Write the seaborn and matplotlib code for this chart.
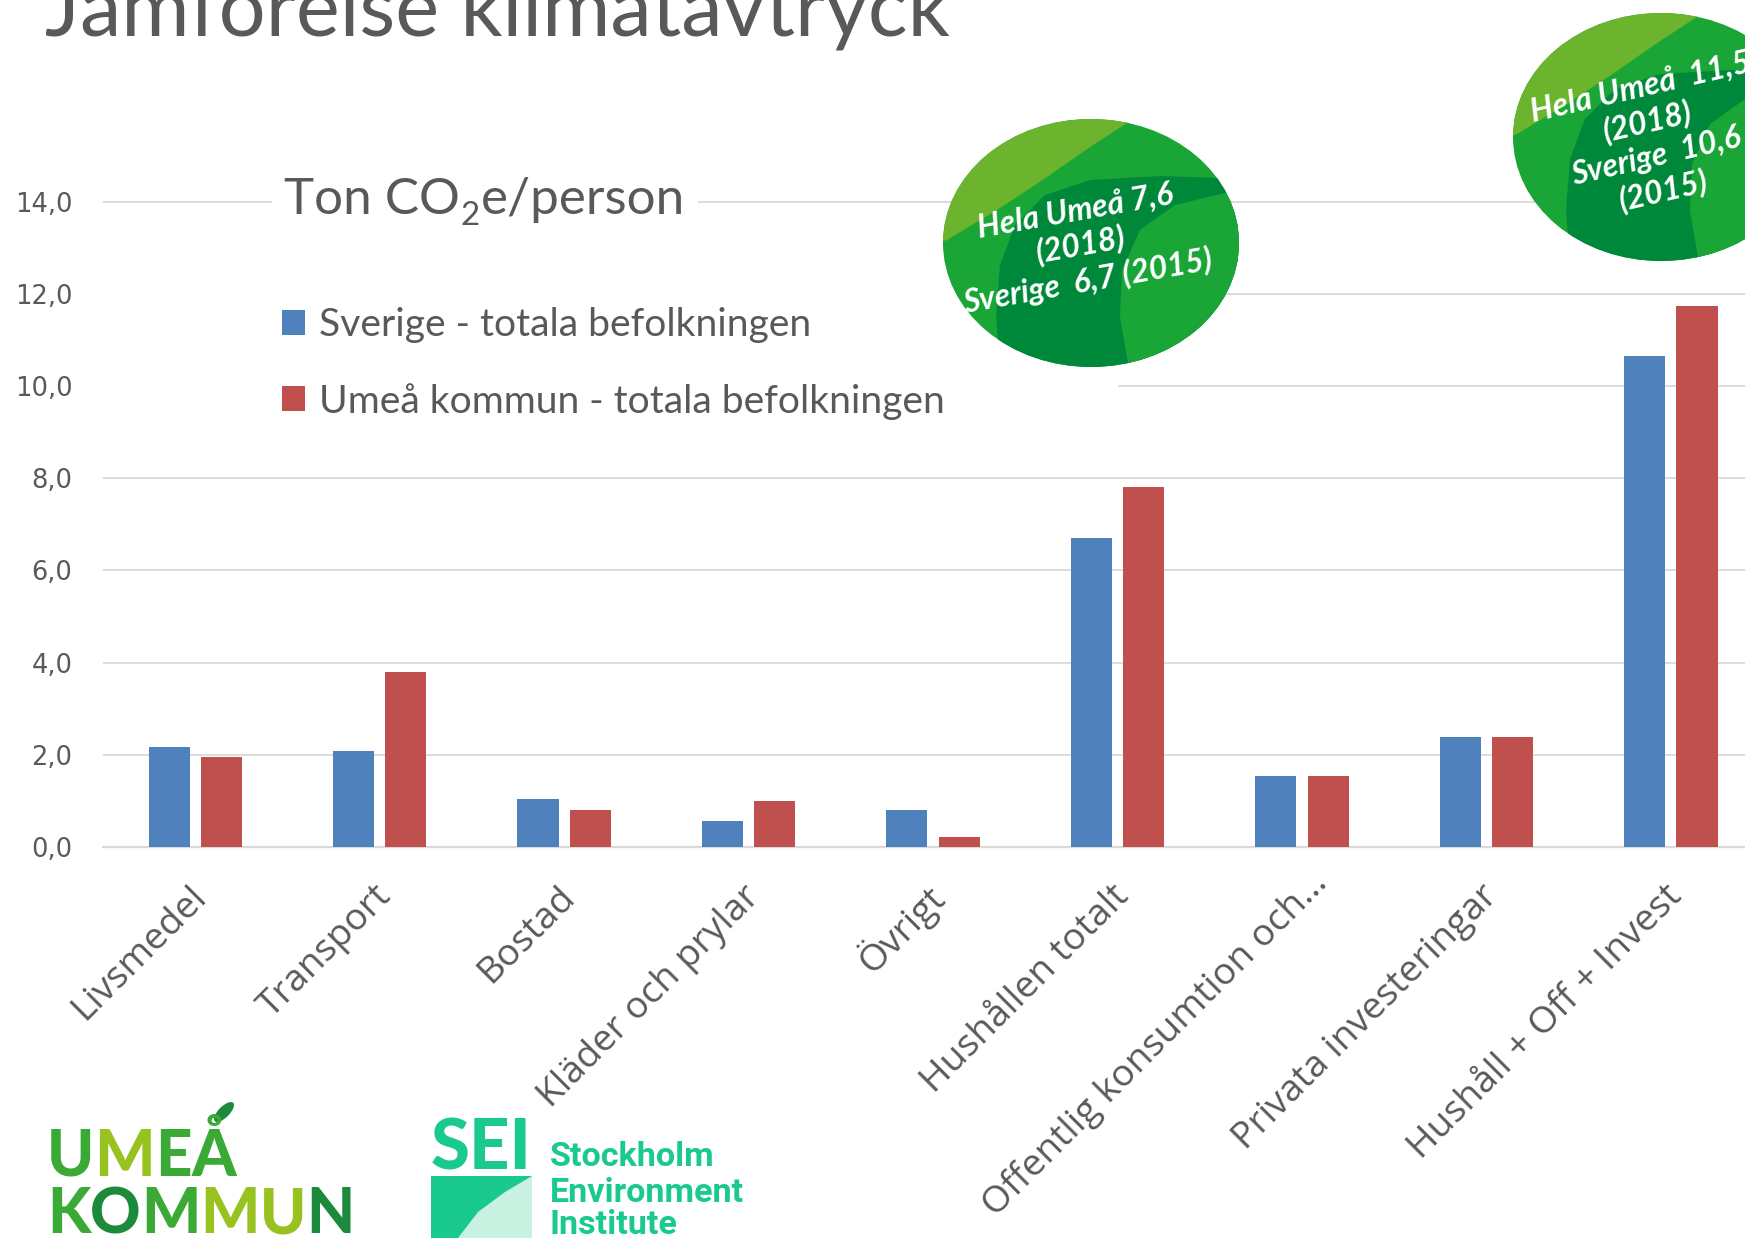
import numpy as np
import pandas as pd
import matplotlib
matplotlib.use("Agg")
import matplotlib.pyplot as plt
import seaborn as sns
from matplotlib.patches import Ellipse, Rectangle, Polygon
from matplotlib.ticker import FuncFormatter
from matplotlib.transforms import ScaledTranslation

# ---------------- data ----------------
categories = ["Livsmedel", "Transport", "Bostad", "Kläder och prylar", "Övrigt",
              "Hushållen totalt", "Offentlig konsumtion och…",
              "Privata investeringar", "Hushåll + Off + Invest"]
sverige = [2.17, 2.08, 1.04, 0.56, 0.80, 6.71, 1.53, 2.39, 10.65]
umea = [1.96, 3.79, 0.80, 0.99, 0.22, 7.80, 1.53, 2.39, 11.73]
series_names = ["Sverige - totala befolkningen", "Umeå kommun - totala befolkningen"]
yticks = [0, 2, 4, 6, 8, 10, 12, 14]
main_title = "Jämförelse klimatavtryck"
bubble1 = "Hela Umeå 7,6\n(2018)\nSverige  6,7 (2015)"
bubble2 = "Hela Umeå  11,5\n(2018)\nSverige  10,6\n(2015)"

df = pd.DataFrame({
    "Kategori": categories * 2,
    "Värde": sverige + umea,
    "Serie": [series_names[0]] * len(categories) + [series_names[1]] * len(categories),
})

# ---------------- style ----------------
sns.set_theme(style="whitegrid")
plt.rcParams["font.family"] = ["Lato", "DejaVu Sans"]
GREY = "#595959"
GRID = "#d9d9d9"
BLUE = "#4f81bd"
RED = "#c0504d"

W, H = 1745, 1238
fig = plt.figure(figsize=(W / 100, H / 100), dpi=100)
renderer = fig.canvas.get_renderer()


def fx(x):
    return x / W


def fy(y):
    return 1 - y / H


def fit_size(s, target_px, **kw):
    t = fig.text(0, 0, s, fontsize=20, **kw)
    w = t.get_window_extent(renderer=renderer).width
    t.remove()
    return 20 * target_px / w


Y0 = 847.0
PXU = 46.1
YTOP = 14.3
ax = fig.add_axes([fx(103), fy(Y0), 1 - fx(103), YTOP * PXU / H])

sns.barplot(data=df, x="Kategori", y="Värde", hue="Serie", order=categories,
            hue_order=series_names, palette=[BLUE, RED], saturation=1,
            width=0.567, gap=0.214, linewidth=0, ax=ax, legend=True)

ax.set_xlim(-0.5, 8.402)
ax.set_ylim(0, YTOP)
ax.set_yticks(yticks)
ax.yaxis.set_major_formatter(FuncFormatter(lambda v, p: f"{v:.1f}".replace(".", ",")))
ax.set_xlabel("")
ax.set_ylabel("")
for s in ax.spines.values():
    s.set_visible(False)
ax.grid(axis="y", color=GRID, linewidth=1.3)
ax.grid(axis="x", visible=False)
ax.axhline(0, color=GRID, linewidth=1.6, clip_on=False, zorder=0.6)
ax.set_axisbelow(True)

ax.tick_params(axis="y", pad=22, labelsize=18.5, labelcolor=GREY, length=0)
ax.tick_params(axis="x", pad=32, length=0)
for lab in ax.get_yticklabels():
    lab.set_family("DejaVu Sans")

xsize = fit_size(categories[6], 470, family="Open Sans")
ax.set_xticks(range(len(categories)))
ax.set_xticklabels(categories, rotation=45, ha="right", va="center",
                   rotation_mode="anchor", fontsize=xsize, color=GREY,
                   family="Open Sans")
for i, lab in enumerate(ax.get_xticklabels()):
    dx, dy = (0.06, 0.0) if i != 6 else (0.20, 0.14)
    lab.set_transform(lab.get_transform() + ScaledTranslation(dx, dy, fig.dpi_scale_trans))

# white area behind legend (hides gridlines as in the original)
ax.add_patch(Rectangle((fx(103), fy(440)), fx(1118) - fx(103), fy(232) - fy(440),
                       transform=fig.transFigure, facecolor="white",
                       edgecolor="none", zorder=0.8))

# legend
lsize = fit_size(series_names[0], 493, family="Lato")
h, l = ax.get_legend_handles_labels()
ax.legend(h, l, loc="upper left", bbox_to_anchor=(fx(282), fy(307)),
          bbox_transform=fig.transFigure, frameon=False,
          prop={"family": "Lato", "size": lsize}, labelcolor=GREY,
          handlelength=0.6, handleheight=0.6, handletextpad=0.35,
          labelspacing=1.02, borderpad=0, borderaxespad=0)

# ---------------- overlay in pixel coordinates ----------------
ov = fig.add_axes([0, 0, 1, 1], zorder=10)
ov.set_xlim(0, W)
ov.set_ylim(H, 0)
ov.axis("off")
ov.patch.set_alpha(0)

# main title (cropped at top, as in the original slide)
tsize = fit_size(main_title, 907, family="Lato")
ov.text(45, 35, main_title, fontsize=tsize, family="Lato",
        color=GREY, ha="left", va="baseline")

# unit title: "Ton CO2e/person" with subscript 2
usz = fit_size("Ton CO", 176, family="Lato")
box = Rectangle((272, 176), 426, 54, facecolor="white", edgecolor="none", zorder=1)
ov.add_patch(box)
t1 = ov.text(284, 214, "Ton CO", fontsize=usz, family="Lato", color=GREY,
             ha="left", va="baseline", zorder=2)
x1 = 284 + t1.get_window_extent(renderer=renderer).width
t2 = ov.text(x1 + 1, 225, "2", fontsize=usz * 0.65, family="Lato", color=GREY,
             ha="left", va="baseline", zorder=2)
x2 = x1 + 2 + t2.get_window_extent(renderer=renderer).width
ov.text(x2, 214, "e/person", fontsize=usz, family="Lato", color=GREY,
        ha="left", va="baseline", zorder=2)

# green bubbles
LIGHT = "#6cb32e"
BASE = "#1aa537"
DARK = "#00883a"
light_pts = [(947, 240), (997, 210), (1047, 177), (1090, 147), (1127, 123),
             (1160, 60), (880, 60), (880, 260)]
dark_pts = [(1222, 178), (1160, 176), (1090, 180), (1045, 195), (1015, 225),
            (1000, 265), (996, 317), (1000, 363), (1010, 420), (1300, 420),
            (1300, 170)]
inner_pts = [(1225, 193), (1175, 205), (1140, 230), (1122, 270), (1120, 317),
             (1128, 363), (1135, 420), (1300, 420), (1300, 180)]
C1 = (1091, 243)


def bubble(cx, cy, text, rot, tcx, tcy, size):
    e = Ellipse((cx, cy), 296, 248, facecolor=BASE, edgecolor="none")
    ov.add_patch(e)
    for pts, col in [(light_pts, LIGHT), (dark_pts, DARK), (inner_pts, BASE)]:
        shifted = [(x - C1[0] + cx, y - C1[1] + cy) for x, y in pts]
        p = Polygon(shifted, closed=True, facecolor=col, edgecolor="none")
        ov.add_patch(p)
        p.set_clip_path(e)
    ov.text(tcx, tcy, text, rotation=rot, rotation_mode="anchor", ha="center",
            va="center", multialignment="center", fontsize=size, color="white",
            family="Lato", weight="bold", style="italic", linespacing=1.22)


bsize = fit_size("Hela Umeå 7,6", 198, family="Lato", weight="bold", style="italic")
bubble(1091, 243, bubble1, 10, 1081, 246, bsize)
bubble(1661, 137, bubble2, 13, 1652, 139, bsize)

# Umeå kommun logo
MID = "#3aa935"
LGT = "#97c21f"
DRK = "#1b8a3a"


def colored_word(x, ybase, word, colors, target_w):
    size = fit_size(word, target_w, family="Lato", weight="black")
    cur = x
    for ch, c in zip(word, colors):
        t = ov.text(cur, ybase, ch, fontsize=size, family="Lato", weight="black",
                    color=c, ha="left", va="baseline")
        cur += t.get_window_extent(renderer=renderer).width


colored_word(47, 1176, "UMEÅ", [MID, LGT, MID, MID], 189)
colored_word(47, 1233, "KOMMUN", [MID, DRK, MID, LGT, LGT, DRK], 307)
leaf = Ellipse((224, 1112), 26, 11, angle=-45, facecolor=DRK, edgecolor="none")
ov.add_patch(leaf)

# SEI logo
TEAL = "#19c98d"
ssize = fit_size("SEI", 101, family="Lato", weight="black")
ov.text(431, 1169, "SEI", fontsize=ssize, family="Lato", weight="black",
        color=TEAL, ha="left", va="baseline")
ov.add_patch(Rectangle((431, 1176), 101, 70, facecolor="#c8f1e2", edgecolor="none"))
ov.add_patch(Polygon([(431, 1176), (532, 1176), (505, 1192), (478, 1212),
                      (458, 1238), (431, 1238)], closed=True,
                     facecolor=TEAL, edgecolor="none"))
esize = fit_size("Environment", 194, family="Roboto", weight="bold")
for txt, yc in [("Stockholm", 1157), ("Environment", 1193), ("Institute", 1225)]:
    ov.text(550, yc, txt, fontsize=esize, family="Roboto", weight="bold",
            color=TEAL, ha="left", va="center")

fig.savefig("out.png", dpi=100)
